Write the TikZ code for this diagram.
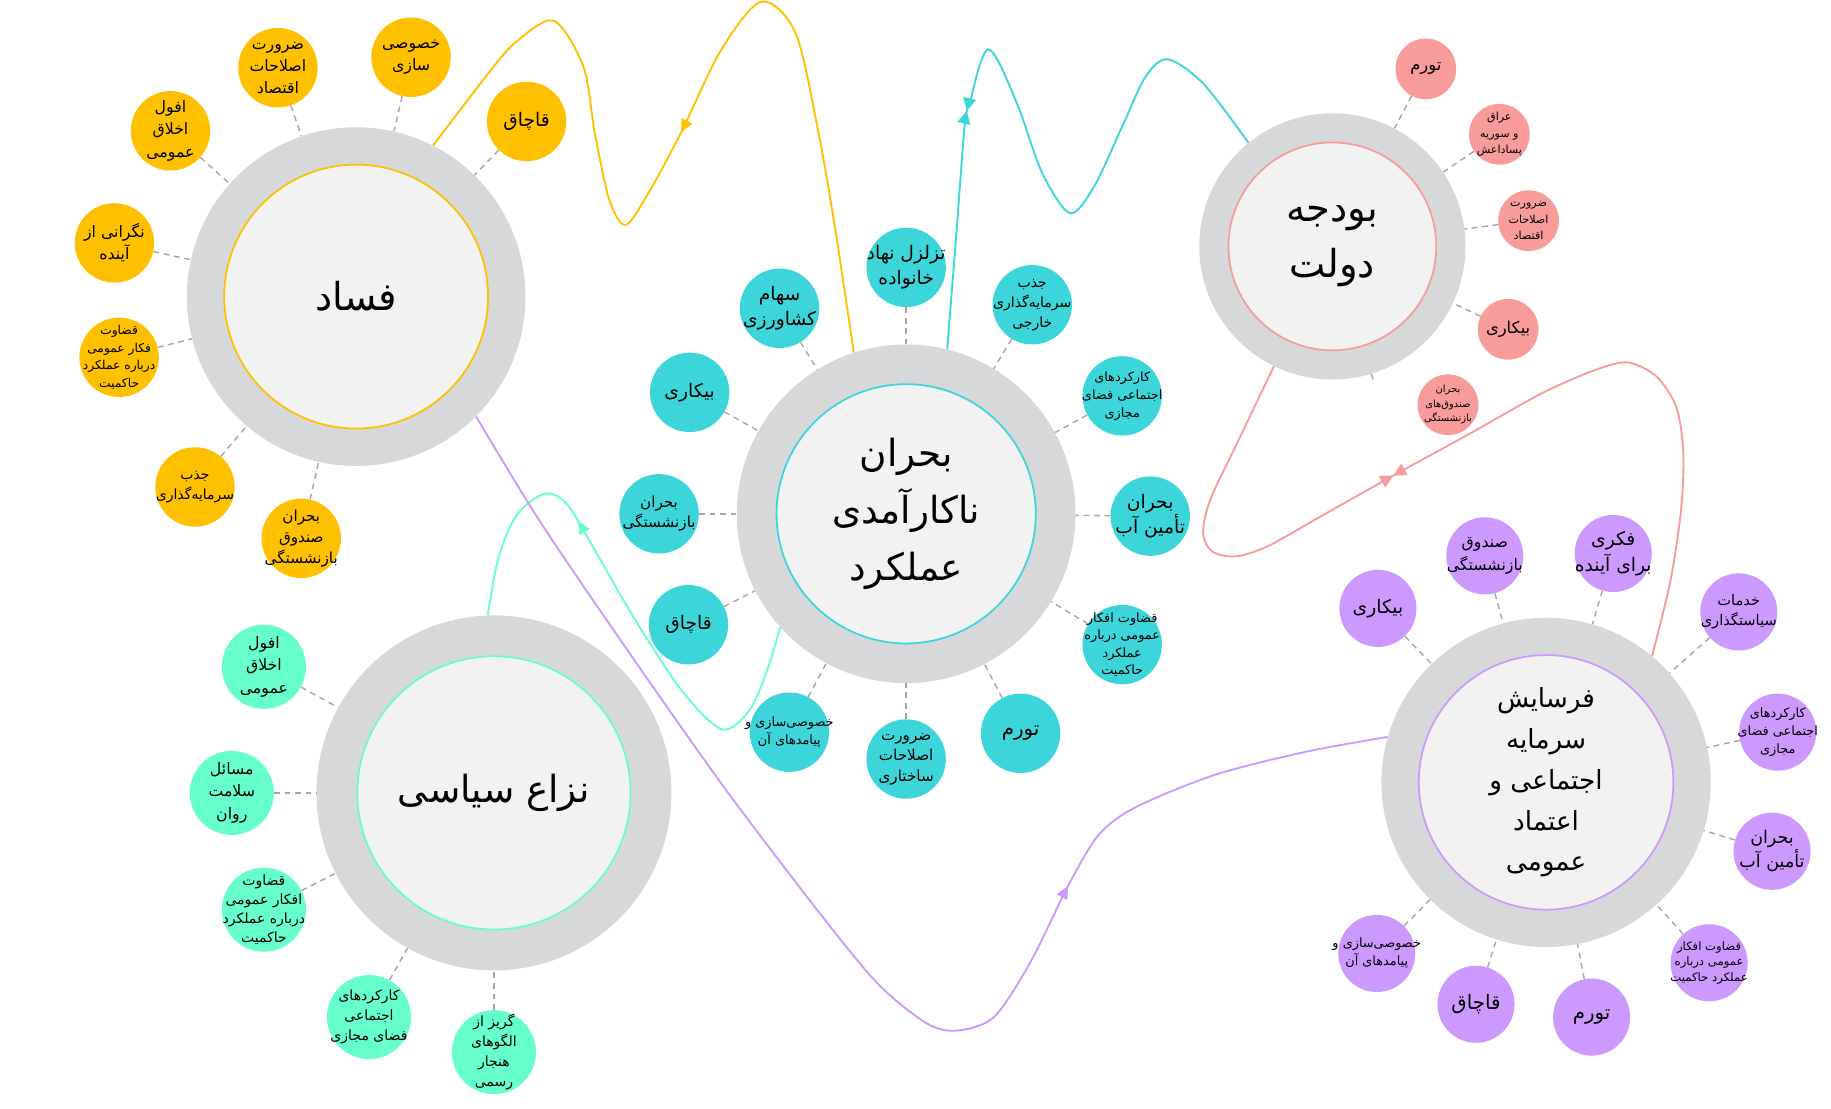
\documentclass[tikz,border=0pt]{standalone}
\usepackage{fontspec}
\newfontfamily\fafont[Script=Arabic]{DejaVu Sans}
\TeXXeTstate=1
\usetikzlibrary{arrows.meta,decorations.markings}

\definecolor{gold}{HTML}{FFC000}
\definecolor{aqua}{HTML}{3CD6DA}
\definecolor{rose}{HTML}{F79B9B}
\definecolor{lilac}{HTML}{CC99FF}
\definecolor{mint}{HTML}{66FFCC}
\definecolor{ringgray}{HTML}{D7D8DA}
\definecolor{corefill}{HTML}{F2F2F2}
\definecolor{spokegray}{HTML}{A6A6A6}

% one right-to-left line
\newcommand{\fa}[1]{\beginR #1\endR}

\begin{document}
\begin{tikzpicture}[
    x=1pt, y=-1pt,
    ring/.style={circle, fill=ringgray, inner sep=0pt, minimum size=#1},
    core/.style={circle, fill=corefill, draw=#1, line width=1.5pt, inner sep=0pt, align=center},
    sat/.style={circle, fill=#1, inner sep=-14pt, minimum size=68, align=center},
    txt/.style 2 args={font=\fafont\fontsize{#1}{#2}\selectfont},
    spoke/.style={draw=spokegray, line width=1.2pt, dash pattern=on 5pt off 4pt},
    flow/.style={draw=#1, line width=1.6pt},
    fwdtip/.style={postaction={decorate}, decoration={markings,
        mark=at position #1 with {\arrow{Triangle[length=11pt,width=10pt]}}}},
    meettips/.style 2 args={postaction={decorate}, decoration={markings,
        mark=at position #1 with {\arrow{Triangle[length=11pt,width=11pt]}},
        mark=at position #2 with {\arrowreversed{Triangle[length=11pt,width=11pt]}}}}
]
    \path[use as bounding box, fill=white] (0,0) rectangle (1568,949.7);

    % Corruption cluster (yellow)
    \node[ring=290] (corruption) at (305,254) {};
    \node[core=gold, minimum size=226, txt={33}{47}] (corruptionCore) at (corruption) {\fa{فساد}};
    \node[sat=gold, txt={13.5}{19}] (corrPriv) at (352,49) {\fa{خصوصی}\\\fa{سازی}};
    \node[sat=gold, txt={16}{21}] (corrSmuggle) at (451,104) {\fa{قاچاق}};
    \node[sat=gold, txt={13.5}{19}] (corrReform) at (238,58) {\fa{ضرورت}\\\fa{اصلاحات}\\\fa{اقتصاد}};
    \node[sat=gold, txt={13.5}{19}] (corrMorals) at (146,112) {\fa{افول}\\\fa{اخلاق}\\\fa{عمومی}};
    \node[sat=gold, txt={13.5}{19}] (corrFuture) at (98,208) {\fa{نگرانی از}\\\fa{آینده}};
    \node[sat=gold, txt={10.5}{15}] (corrOpinion) at (102,306) {\fa{قضاوت}\\\fa{فکار عمومی}\\\fa{درباره عملکرد}\\\fa{حاکمیت}};
    \node[sat=gold, txt={12}{17}] (corrInvest) at (167,417) {\fa{جذب}\\\fa{سرمایه‌گذاری}};
    \node[sat=gold, txt={13}{18}] (corrPension) at (258,461) {\fa{بحران}\\\fa{صندوق}\\\fa{بازنشستگی}};

    % Inefficiency cluster (aqua)
    \node[ring=290] (inefficiency) at (776,440) {};
    \node[core=aqua, minimum size=222, txt={32}{49}] (inefficiencyCore) at (inefficiency) {\fa{بحران}\\\fa{ناکارآمدی}\\\fa{عملکرد}};
    \node[sat=aqua, txt={16}{21}] (ineFamily) at (776,229) {\fa{تزلزل نهاد}\\\fa{خانواده}};
    \node[sat=aqua, txt={16}{21}] (ineFarm) at (667.6,264) {\fa{سهام}\\\fa{کشاورزی}};
    \node[sat=aqua, txt={12}{17}] (ineForeign) at (884,261) {\fa{جذب}\\\fa{سرمایه‌گذاری}\\\fa{خارجی}};
    \node[sat=aqua, txt={16}{21}] (ineJobless) at (590.6,336) {\fa{بیکاری}};
    \node[sat=aqua, txt={11}{15.5}] (ineCyber) at (961,339) {\fa{کارکردهای}\\\fa{اجتماعی فضای}\\\fa{مجازی}};
    \node[sat=aqua, txt={13}{17}] (inePension) at (564.4,440) {\fa{بحران}\\\fa{بازنشستگی}};
    \node[sat=aqua, txt={16}{21}] (ineWater) at (985,442) {\fa{بحران}\\\fa{تأمین آب}};
    \node[sat=aqua, txt={16}{21}] (ineSmuggle) at (589.6,535) {\fa{قاچاق}};
    \node[sat=aqua, txt={11}{15}] (ineOpinion) at (961,552) {\fa{قضاوت افکار}\\\fa{عمومی درباره}\\\fa{عملکرد}\\\fa{حاکمیت}};
    \node[sat=aqua, txt={11}{15}] (inePriv) at (676,627) {\fa{خصوصی‌سازی و}\\\fa{پیامدهای آن}};
    \node[sat=aqua, txt={13}{17.5}] (ineReform) at (776,650) {\fa{ضرورت}\\\fa{اصلاحات}\\\fa{ساختاری}};
    \node[sat=aqua, txt={17}{21}] (ineInflation) at (874,628) {\fa{تورم}};

    % Budget cluster (rose)
    \node[ring=228] (budget) at (1141,211) {};
    \node[core=rose, minimum size=178, txt={33}{48}] (budgetCore) at (budget) {\fa{بودجه}\\\fa{دولت}};
    \node[sat=rose, minimum size=52, txt={14}{18}] (budInflation) at (1221,59) {\fa{تورم}};
    \node[sat=rose, minimum size=52, txt={9.5}{14}] (budIraq) at (1284,115) {\fa{عراق}\\\fa{و سوریه}\\\fa{پساداعش}};
    \node[sat=rose, minimum size=52, txt={9.5}{14}] (budReform) at (1309,189) {\fa{ضرورت}\\\fa{اصلاحات}\\\fa{اقتصاد}};
    \node[sat=rose, minimum size=52, txt={14}{18}] (budJobless) at (1291.5,282) {\fa{بیکاری}};
    \node[sat=rose, minimum size=52, txt={8.5}{12.5}] (budPension) at (1240,346.6) {\fa{بحران}\\\fa{صندوق‌های}\\\fa{بازنشستگی}};

    % Erosion of social capital cluster (lilac)
    \node[ring=282] (erosion) at (1324,670) {};
    \node[core=lilac, minimum size=218, txt={22.5}{35}] (erosionCore) at (erosion) {\fa{فرسایش}\\\fa{سرمایه}\\\fa{اجتماعی و}\\\fa{اعتماد}\\\fa{عمومی}};
    \node[sat=lilac, minimum size=66, txt={16}{21}] (eroJobless) at (1180,521) {\fa{بیکاری}};
    \node[sat=lilac, minimum size=66, txt={13.5}{19}] (eroPension) at (1271.5,476) {\fa{صندوق}\\\fa{بازنشستگی}};
    \node[sat=lilac, minimum size=66, txt={16}{22}] (eroFuture) at (1381.5,474) {\fa{فکری}\\\fa{برای آینده}};
    \node[sat=lilac, minimum size=66, txt={12.5}{17}] (eroPolicy) at (1489,524) {\fa{خدمات}\\\fa{سیاستگذاری}};
    \node[sat=lilac, minimum size=66, txt={11}{15}] (eroCyber) at (1522.4,627) {\fa{کارکردهای}\\\fa{اجتماعی فضای}\\\fa{مجازی}};
    \node[sat=lilac, minimum size=66, txt={15}{20.5}] (eroWater) at (1517.5,729) {\fa{بحران}\\\fa{تأمین آب}};
    \node[sat=lilac, minimum size=66, txt={10}{13.5}] (eroOpinion) at (1463.6,824.5) {\fa{قضاوت افکار}\\\fa{عمومی درباره}\\\fa{عملکرد حاکمیت}};
    \node[sat=lilac, minimum size=66, txt={17}{21}] (eroInflation) at (1363,871) {\fa{تورم}};
    \node[sat=lilac, minimum size=66, txt={17}{21}] (eroSmuggle) at (1264,860) {\fa{قاچاق}};
    \node[sat=lilac, minimum size=66, txt={11}{15.5}] (eroPriv) at (1179,816.5) {\fa{خصوصی‌سازی و}\\\fa{پیامدهای آن}};

    % Political conflict cluster (mint)
    \node[ring=304] (conflict) at (423,679) {};
    \node[core=mint, minimum size=234, txt={32}{47}] (conflictCore) at (conflict) {\fa{نزاع سیاسی}};
    \node[sat=mint, minimum size=72, txt={13.5}{19.5}] (conMorals) at (226,571) {\fa{افول}\\\fa{اخلاق}\\\fa{عمومی}};
    \node[sat=mint, minimum size=72, txt={13.5}{19.5}] (conHealth) at (198.5,679) {\fa{مسائل}\\\fa{سلامت}\\\fa{روان}};
    \node[sat=mint, minimum size=72, txt={12}{16.5}] (conOpinion) at (226,779) {\fa{قضاوت}\\\fa{افکار عمومی}\\\fa{درباره عملکرد}\\\fa{حاکمیت}};
    \node[sat=mint, minimum size=72, txt={12}{17}] (conCyber) at (316,871) {\fa{کارکردهای}\\\fa{اجتماعی}\\\fa{فضای مجازی}};
    \node[sat=mint, minimum size=72, txt={12}{17}] (conNorms) at (423,901) {\fa{گریز از}\\\fa{الگوهای}\\\fa{هنجار}\\\fa{رسمی}};

    % Dashed spokes from each factor to its cluster
    \draw[spoke] (corrPriv) -- (corruption);
    \draw[spoke] (corrSmuggle) -- (corruption);
    \draw[spoke] (corrReform) -- (corruption);
    \draw[spoke] (corrMorals) -- (corruption);
    \draw[spoke] (corrFuture) -- (corruption);
    \draw[spoke] (corrOpinion) -- (corruption);
    \draw[spoke] (corrInvest) -- (corruption);
    \draw[spoke] (corrPension) -- (corruption);

    \draw[spoke] (ineFamily) -- (inefficiency);
    \draw[spoke] (ineFarm) -- (inefficiency);
    \draw[spoke] (ineForeign) -- (inefficiency);
    \draw[spoke] (ineJobless) -- (inefficiency);
    \draw[spoke] (ineCyber) -- (inefficiency);
    \draw[spoke] (inePension) -- (inefficiency);
    \draw[spoke] (ineWater) -- (inefficiency);
    \draw[spoke] (ineSmuggle) -- (inefficiency);
    \draw[spoke] (ineOpinion) -- (inefficiency);
    \draw[spoke] (inePriv) -- (inefficiency);
    \draw[spoke] (ineReform) -- (inefficiency);
    \draw[spoke] (ineInflation) -- (inefficiency);

    \draw[spoke] (budInflation) -- (budget);
    \draw[spoke] (budIraq) -- (budget);
    \draw[spoke] (budReform) -- (budget);
    \draw[spoke] (budJobless) -- (budget);
    \draw[spoke] (budget.287) -- +(2,7);

    \draw[spoke] (eroJobless) -- (erosion);
    \draw[spoke] (eroPension) -- (erosion);
    \draw[spoke] (eroFuture) -- (erosion);
    \draw[spoke] (eroPolicy) -- (erosion);
    \draw[spoke] (eroCyber) -- (erosion);
    \draw[spoke] (eroWater) -- (erosion);
    \draw[spoke] (eroOpinion) -- (erosion);
    \draw[spoke] (eroInflation) -- (erosion);
    \draw[spoke] (eroSmuggle) -- (erosion);
    \draw[spoke] (eroPriv) -- (erosion);

    \draw[spoke] (conMorals) -- (conflict);
    \draw[spoke] (conHealth) -- (conflict);
    \draw[spoke] (conOpinion) -- (conflict);
    \draw[spoke] (conCyber) -- (conflict);
    \draw[spoke] (conNorms) -- (conflict);

    % Wavy links between clusters
    \draw[flow=gold, fwdtip=0.51] plot[smooth] coordinates {(inefficiency.108) (715.8,199.7) (701,114) (681.4,28.5) (652,1.4) (617.5,42.8) (583,114) (553.7,168) (535.5,192.6) (521.7,171) (509.4,114) (499.6,57) (474,17.7) (440.7,37) (416,65.6) (corruption.63)};
    \draw[flow=aqua, meettips={0.3}{0.3}] plot[smooth] coordinates {(inefficiency.76) (819,199.7) (826.3,105.6) (831.2,85.6) (838.6,57) (846,42.2) (855.8,54.2) (873,94) (892.6,148.4) (916.2,182.6) (936.9,159.8) (961,108.4) (981,65.6) (999.8,50.8) (1030.2,71.3) (budget.129)};
    \draw[flow=rose, meettips={0.41}{0.41}] plot[smooth] coordinates {(budget.244) (1060.8,376.6) (1036.4,428) (1030.3,456.5) (1037.9,472.2) (1057.8,476.5) (1085.3,467.9) (1131.1,442.2) (1192.7,407.5) (1259.5,370.9) (1320.7,336.6) (1366.5,316.7) (1394,310.4) (1418.5,322.4) (1435.3,348.1) (1441.4,385.1) (1439.9,433.7) (1430.7,496.4) (erosion.50)};
    \draw[flow=mint, fwdtip=0.67] plot[smooth] coordinates {(inefficiency.222) (657.7,572) (642,607.9) (618.4,624.6) (584.3,592) (542.4,528.3) (505.7,464.6) (484.8,430.8) (466.4,422.8) (442.8,440.7) (427.1,476.5) (conflict.92)};
    \draw[flow=lilac, fwdtip=0.727] plot[smooth] coordinates {(corruption.315) (463.8,448.7) (542.4,564.1) (621,675.5) (699.6,779) (752,842.7) (793.9,876.5) (820.1,882.5) (851.6,870.6) (883,822.8) (914.4,759.1) (940.6,715.3) (972.1,691.5) (1040.2,663.6) (1118.8,643.7) (erosion.164)};

\end{tikzpicture}
\end{document}
